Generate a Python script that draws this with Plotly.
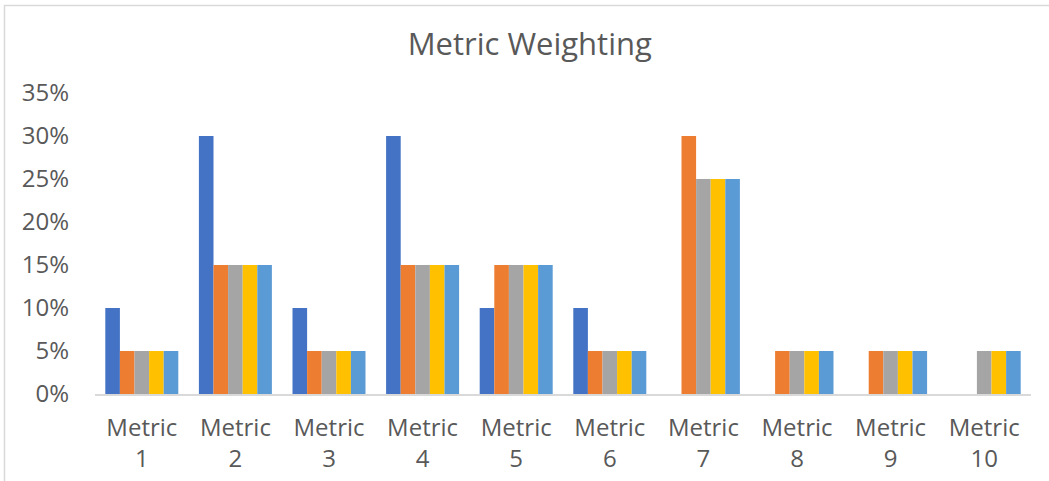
import plotly.graph_objects as go

categories = ["Metric<br>1", "Metric<br>2", "Metric<br>3", "Metric<br>4", "Metric<br>5",
              "Metric<br>6", "Metric<br>7", "Metric<br>8", "Metric<br>9", "Metric<br>10"]

series_a = [0.10, 0.30, 0.10, 0.30, 0.10, 0.10, 0.00, 0.00, 0.00, 0.00]
series_b = [0.05, 0.15, 0.05, 0.15, 0.15, 0.05, 0.30, 0.05, 0.05, 0.00]
series_c = [0.05, 0.15, 0.05, 0.15, 0.15, 0.05, 0.25, 0.05, 0.05, 0.05]
series_d = [0.05, 0.15, 0.05, 0.15, 0.15, 0.05, 0.25, 0.05, 0.05, 0.05]
series_e = [0.05, 0.15, 0.05, 0.15, 0.15, 0.05, 0.25, 0.05, 0.05, 0.05]

colors = ["#4472C4", "#ED7D31", "#A5A5A5", "#FFC000", "#5B9BD5"]
all_series = [series_a, series_b, series_c, series_d, series_e]

W, H = 1049, 481
L, R, T, B = 95, 18, 93, 87

fig = go.Figure()
for vals, col in zip(all_series, colors):
    fig.add_trace(go.Bar(x=categories, y=vals, marker=dict(color=col, line=dict(width=0)),
                         showlegend=False))

pw = W - L - R
ph = H - T - B

def px_x(x):
    return (x - L) / pw

def px_y(y):
    return (H - B - y) / ph

fig.add_shape(type="rect", xref="paper", yref="paper",
              x0=px_x(4.5), x1=px_x(1052), y0=px_y(5.5), y1=px_y(490),
              line=dict(color="#D9D9D9", width=1.5), fillcolor="rgba(0,0,0,0)")

fig.update_layout(
    width=W, height=H,
    margin=dict(l=L, r=R, t=T, b=B),
    paper_bgcolor="white", plot_bgcolor="white",
    barmode="group", bargap=0.22, bargroupgap=0,
    font=dict(family="Open Sans", color="#595959"),
    title=dict(text="Metric Weighting", x=0.505, xanchor="center", y=1 - 44 / H, yanchor="middle",
               font=dict(size=31, color="#595959")),
    xaxis=dict(showline=True, linecolor="#D9D9D9", linewidth=1.5, ticks="", automargin=False,
               tickfont=dict(size=24, color="#595959"), showgrid=False, ticklabelstandoff=11),
    yaxis=dict(range=[0, 0.35], dtick=0.05, tickformat=".0%", showgrid=False, zeroline=False,
               automargin=False, showline=False, tickfont=dict(size=24, color="#595959"),
               ticklabelstandoff=25),
)

fig.write_html("out.html")
